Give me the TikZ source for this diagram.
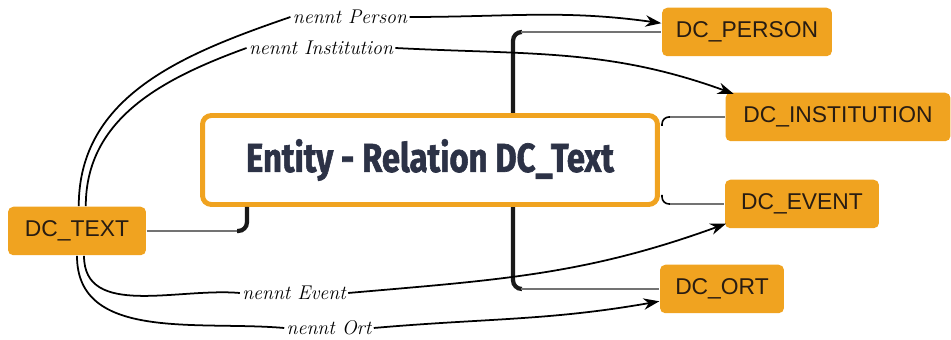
\documentclass[tikz,border=0pt]{standalone}
\usepackage{fontspec}
\usepackage{graphicx}
\usetikzlibrary{arrows.meta}
\newfontfamily\boxfont{Liberation Sans}
\newfontfamily\titlefont{Fira Sans}[BoldFeatures={FakeBold=1.6}]
\definecolor{dcorange}{RGB}{240,163,32}
\definecolor{dcink}{RGB}{40,28,18}
\definecolor{dctitle}{RGB}{44,50,70}

\begin{document}
\begin{tikzpicture}[x=0.02cm, y=0.02cm, thick,
  leaf/.style = {fill=dcorange, rounded corners=3pt, text=dcink, font=\boxfont\fontsize{13}{15}\selectfont, minimum height=0.97cm},
  hub/.style = {draw=dcorange, line width=2.8pt, fill=white, rounded corners=5pt, minimum width=9.1cm, minimum height=1.78cm},
  lbl/.style = {font=\itshape\fontsize{11.3}{13}\selectfont, inner sep=1pt},
  rel/.style = {line width=1pt, black},
  twig/.style = {black!55, line width=0.8pt},
  trunk/.style = {line width=2.4pt, black!90, rounded corners=5pt}]
  \useasboundingbox (0,0) rectangle (951,340);

  % spine behind the hub
  \coordinate (spT) at (521,308);
  \coordinate (spB) at (521,51);
  \draw[trunk] (spT) -- (513,308) -- (513,51) -- (spB);

  \node[hub] (main) at (430,180) {\titlefont\bfseries\fontsize{23}{27}\selectfont\color{dctitle}\resizebox{7.36cm}{\height}{Entity - Relation DC\_Text}};
  \node[leaf, minimum width=2.76cm] (dctext) at (77,109) {DC\_TEXT};
  \node[leaf, minimum width=3.4cm] (person) at (747,308) {DC\_PERSON};
  \node[leaf, minimum width=4.5cm] (inst) at (838,223) {DC\_INSTITUTION};
  \node[leaf, minimum width=3.08cm] (event) at (802,136) {DC\_EVENT};
  \node[leaf, minimum width=2.48cm] (ort) at (722,51) {DC\_ORT};

  \node[lbl] (nP) at (350,323) {nennt Person};
  \node[lbl] (nI) at (321,292) {nennt Institution};
  \node[lbl] (nE) at (294,47) {nennt Event};
  \node[lbl] (nO) at (329,12) {nennt Ort};

  % hub branches
  \coordinate (kneeL) at (237,109);
  \draw[twig] (dctext.east) -- (kneeL);
  \draw[trunk] (kneeL) -- (247,109) -- (247,133);
  \draw[twig] (spT) -- (person.west);
  \draw[twig] (spB) -- (ort.west);
  \coordinate (kneeI) at (670,223);
  \coordinate (kneeE) at (670,136);
  \draw[line width=0.9pt, rounded corners=4pt] (662,214) -- (662,223) -- (kneeI);
  \draw[twig] (kneeI) -- (inst.west);
  \draw[line width=0.9pt, rounded corners=4pt] (662,145) -- (662,136) -- (kneeE);
  \draw[twig] (kneeE) -- (event.west);

  % relations
  \draw[rel] ([xshift=1pt]dctext.north) to[out=90, in=199] (nP.west);
  \draw[rel, -{Stealth[length=9pt,width=6.5pt]}] (nP.east) to[out=0, in=172] ([yshift=5pt]person.west);
  \draw[rel] ([xshift=5pt]dctext.north) to[out=90, in=200] (nI.west);
  \draw[rel, -{Stealth[length=9pt,width=6.5pt]}] (nI.east) to[out=-3, in=160] ([xshift=5pt,yshift=-1pt]inst.north west);
  \draw[rel] ([xshift=4pt]dctext.south) to[out=-90, in=175] (nE.west);
  \draw[rel, -{Stealth[length=9pt,width=6.5pt]}] (nE.east) to[out=5, in=200] ([xshift=1pt,yshift=3pt]event.south west);
  \draw[rel] ([xshift=0pt]dctext.south) to[out=-90, in=175] (nO.west);
  \draw[rel, -{Stealth[length=9pt,width=6.5pt]}] (nO.east) to[out=5, in=190] ([yshift=-7pt]ort.west);
\end{tikzpicture}
\end{document}
